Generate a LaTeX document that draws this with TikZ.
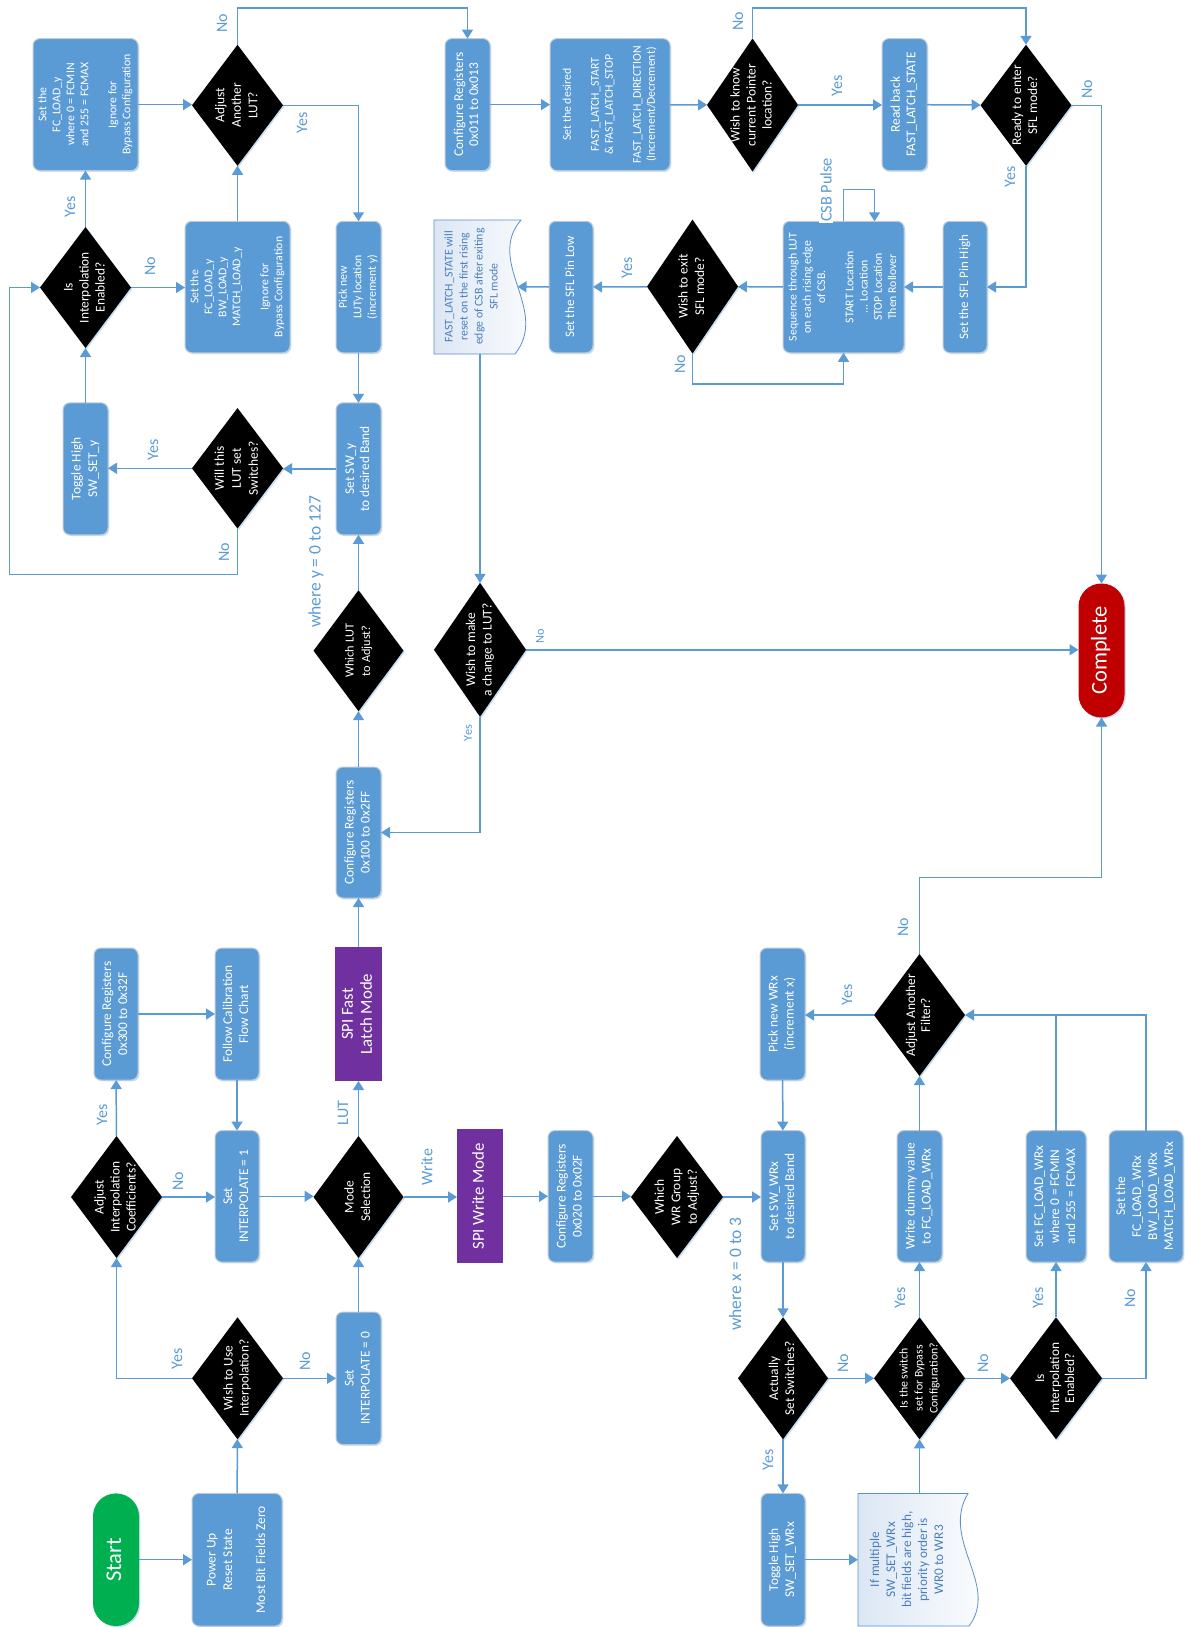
\documentclass[tikz,border=0pt]{standalone}
\usepackage{fontspec}
\setmainfont{Carlito}
\usepackage{graphicx}
\usetikzlibrary{arrows.meta,shapes.geometric,shadows}
\definecolor{boxblue}{HTML}{5B9BD5}
\definecolor{boxedge}{HTML}{BFCAD6}
\definecolor{lineblue}{HTML}{5B9BD5}
\definecolor{purp}{HTML}{7030A0}
\definecolor{startgreen}{HTML}{00B050}
\definecolor{endred}{HTML}{C00000}
\definecolor{notetext}{HTML}{4A7EBB}
\definecolor{noteedge}{HTML}{5B8FCB}
\definecolor{notefill}{HTML}{DCE7F4}
\definecolor{shadowblue}{HTML}{A9C8E8}
\newcommand{\rt}[3]{\rotatebox{90}{\fontsize{#1}{#2}\selectfont\begin{tabular}{@{}c@{}}#3\end{tabular}}}
\tikzset{
 softshadow/.style={drop shadow={shadow xshift=1.3pt, shadow yshift=-1.3pt, fill=shadowblue, opacity=0.6}},
 bx/.style 2 args={rectangle, rounded corners=7pt, fill=boxblue, draw=boxedge, line width=1pt, text=white, inner sep=0pt, outer sep=0pt, minimum width=#1pt, minimum height=#2pt, softshadow},
 pb/.style 2 args={rectangle, fill=purp, text=white, inner sep=0pt, outer sep=0pt, minimum width=#1pt, minimum height=#2pt},
 term/.style 2 args={rectangle, rounded corners=22.9pt, text=white, inner sep=0pt, outer sep=0pt, minimum width=#1pt, minimum height=#2pt, softshadow},
 dia/.style 2 args={diamond, fill=black, inner sep=0pt, outer sep=0pt, minimum width=#1pt, minimum height=#2pt, softshadow},
 dl/.style={text=white, inner sep=0pt},
 nt/.style 2 args={inner sep=0pt, outer sep=0pt, text=notetext, minimum width=#1pt, minimum height=#2pt},
 arr/.style={draw=lineblue, line width=1.5pt, -{Triangle[length=9pt,width=11pt]}},
 ln/.style={draw=lineblue, line width=1.5pt},
 lab/.style={text=lineblue, rotate=90, inner sep=0pt, font=\fontsize{16}{19}\selectfont},
 slab/.style={text=lineblue, rotate=90, inner sep=0pt, font=\fontsize{12.3}{14}\selectfont},
 notebody/.style={draw=noteedge, line width=0.8pt, left color=notefill, right color=white},
}
\begin{document}
\begin{tikzpicture}[x=1pt,y=-1pt]
\fill[white] (0,0) rectangle (1184,1627);
\useasboundingbox (0,0) rectangle (1184,1627);

% ---------- notes (outlines) ----------
\path[notebody] (434,220) -- (521,220) .. controls (485,262) and (550,310) .. (515,354) -- (434,354) -- cycle;
\path[notebody] (858,1493.4) -- (968,1493.4) .. controls (940,1540) and (1000,1585) .. (969,1626) -- (858,1626) -- cycle;
\node[nt={76}{134}] (n1) at (472,286.6) {\rt{11.8}{15}{FAST\_LATCH\_STATE will\\reset on the first rising\\edge of CSB after exiting\\SFL mode}};
\node[nt={100}{132.6}] (n2) at (908,1559.7) {\rt{13.3}{16}{If multiple\\SW\_SET\_WRx\\bit fields are high,\\priority order is\\WR0 to WR3}};
\coordinate (n1e) at (517.5,286.8);

% ---------- row A ----------
\node[bx={105}{132}] (b1) at (85.5,104.6) {\rt{11.8}{14}{Set the\\FC\_LOAD\_y\\where 0 = FCMIN\\and 255 = FCMAX\\ \mbox{}\\Ignore for\\Bypass Configuration}};
\node[dia={91}{121}, label={[dl]center:\rt{13.4}{16.5}{Adjust\\Another\\LUT?}}] (d1) at (237.5,105.3) {};
\node[bx={45}{132}] (b6) at (467.5,104.6) {\rt{13.4}{15}{Configure Registers\\0x011 to 0x013}};
\node[bx={120}{132}] (b7) at (610,104.6) {\rt{11.8}{14}{Set the desired\\ \mbox{}\\FAST\_LATCH\_START\\\& FAST\_LATCH\_STOP\\ \mbox{}\\FAST\_LATCH\_DIRECTION\\(Increment/Decrement)}};
\node[dia={91}{133}, label={[dl]center:\rt{13.4}{16}{Wish to know\\current Pointer\\location?}}] (d4) at (752.5,105) {};
\node[bx={45}{132}] (b8) at (904.5,104.6) {\rt{13.4}{15.5}{Read back\\FAST\_LATCH\_STATE}};
\node[dia={91}{121}, label={[dl]center:\rt{13.4}{16}{Ready to enter\\SFL mode?}}] (d5) at (1026,105.3) {};

% ---------- row B ----------
\node[dia={91}{121}, label={[dl]center:\rt{13.4}{16}{Is\\Interpolation\\Enabled?}}] (d2) at (85.5,287.5) {};
\node[bx={105}{131.5}] (b2) at (237.5,287) {\rt{11.8}{14}{Set the\\FC\_LOAD\_y\\BW\_LOAD\_y\\MATCH\_LOAD\_y\\ \mbox{}\\Ignore for\\Bypass Configuration}};
\node[bx={45}{131.5}] (b3) at (358.5,287) {\rt{11.8}{14.5}{Pick new\\LUTy location\\(increment y)}};
\node[bx={44}{131.5}] (b9) at (571,287) {\rt{13}{15}{Set the SFL Pin Low}};
\node[dia={91}{134}, label={[dl]center:\rt{13.4}{16.5}{Wish to exit\\SFL mode?}}] (d6) at (692.5,286.6) {};
\node[bx={121}{131.5}] (b10) at (843.5,287) {\rt{11.8}{14.2}{Sequence through LUT\\on each rising edge\\of CSB.\\ \mbox{}\\START Location\\... Location\\STOP Location\\Then Rollover}};
\node[bx={44}{131.5}] (b11) at (965,287) {\rt{13}{15}{Set the SFL Pin High}};

% ---------- row C ----------
\node[bx={45}{132}] (b4) at (85.5,468.8) {\rt{13.4}{16.5}{Toggle High\\SW\_SET\_y}};
\node[dia={91}{120.5}, label={[dl]center:\rt{13.4}{17}{Will this\\LUT set\\Switches?}}] (d3) at (237.5,468.3) {};
\node[bx={45}{132}] (b5) at (358.5,468.8) {\rt{13.4}{15}{Set SW\_y\\to desired Band}};

% ---------- row D ----------
\node[dia={90}{121}, label={[dl]center:\rt{12.3}{16.5}{Which LUT\\to Adjust?}}] (d7) at (358.5,650.7) {};
\node[dia={92}{134}, label={[dl]center:\rt{13.4}{16.5}{Wish to make\\a change to LUT?}}] (d8) at (480,649.8) {};
\node[term={46}{134}, fill=endred] (complete) at (1101.5,650.5) {\rt{22.5}{26}{Complete}};

% ---------- row E ----------
\node[bx={45}{131}] (b12) at (358.5,832.5) {\rt{13.4}{16}{Configure Registers\\0x100 to 0x2FF}};

% ---------- row F ----------
\node[bx={44}{132}] (b13) at (116,1014) {\rt{13.4}{16}{Configure Registers\\0x300 to 0x32F}};
\node[bx={44}{132}] (b14) at (237,1014) {\rt{13.4}{16}{Follow Calibration\\Flow Chart}};
\node[pb={47}{134}] (p1) at (358.5,1014) {\rt{16.8}{19}{SPI Fast\\Latch Mode}};
\node[bx={45}{132}] (b15) at (782.5,1014) {\rt{13.4}{16}{Pick new WRx\\(increment x)}};
\node[dia={91}{122}, label={[dl]center:\rt{13.4}{15}{Adjust Another\\Filter?}}] (d16) at (919.5,1015) {};

% ---------- row G ----------
\node[dia={91}{122}, label={[dl]center:\rt{13.4}{16}{Adjust\\Interpolation\\Coefficients?}}] (d9) at (116.5,1197) {};
\node[bx={44}{131.5}] (b16) at (237,1196.3) {\rt{13.4}{16}{Set\\INTERPOLATE = 1}};
\node[dia={90}{122}, label={[dl]center:\rt{13.4}{16.5}{Mode\\Selection}}] (d10) at (358.5,1197) {};
\node[pb={46}{134}] (p2) at (480,1196.3) {\rt{16.8}{19}{SPI Write Mode}};
\node[bx={45}{131.5}] (b19) at (570.5,1196.3) {\rt{13.4}{16}{Configure Registers\\0x020 to 0x02F}};
\node[dia={92}{122}, label={[dl]center:\rt{13.4}{16.5}{Which\\WR Group\\to Adjust?}}] (d12) at (677,1197) {};
\node[bx={44}{131.5}] (b20) at (783,1196.3) {\rt{13.4}{16}{Set SW\_WRx\\to desired Band}};
\node[bx={45}{131.5}] (b22) at (919.5,1196.3) {\rt{13.4}{16}{Write dummy value\\to FC\_LOAD\_WRx}};
\node[bx={60}{131.5}] (b23) at (1056,1196.3) {\rt{13.4}{16}{Set FC\_LOAD\_WRx\\where 0 = FCMIN\\and 255 = FCMAX}};
\node[bx={74}{131.5}] (b24) at (1146,1196.3) {\rt{13.4}{16}{Set the\\FC\_LOAD\_WRx\\BW\_LOAD\_WRx\\MATCH\_LOAD\_WRx}};

% ---------- row H ----------
\node[dia={91}{122}, label={[dl]center:\rt{13.4}{16}{Wish to Use\\Interpolation?}}] (d11) at (237.5,1378.3) {};
\node[bx={45}{132.6}] (b17) at (358.5,1378.3) {\rt{13.4}{16}{Set\\INTERPOLATE = 0}};
\node[dia={90}{122}, label={[dl]center:\rt{13.4}{16}{Actually\\Set Switches?}}] (d13) at (783,1378.3) {};
\node[dia={91}{122}, label={[dl]center:\rt{11.8}{15}{Is the switch\\set for Bypass\\Configuration?}}] (d14) at (919.5,1378.3) {};
\node[dia={92}{122}, label={[dl]center:\rt{13.4}{15}{Is\\Interpolation\\Enabled?}}] (d15) at (1056,1378.3) {};

% ---------- row I ----------
\node[term={46}{132.6}, fill=startgreen] (start) at (116,1559.7) {\rt{22.5}{26}{Start}};
\node[bx={90}{132.6}] (b18) at (237,1559.7) {\rt{13.4}{16.5}{Power Up\\Reset State\\ \mbox{}\\Most Bit Fields Zero}};
\node[bx={44}{132.6}] (b21) at (783,1559.7) {\rt{13.4}{16}{Toggle High\\SW\_SET\_WRx}};

% ---------- helper coordinates ----------
\coordinate (k1) at (919.5,877.5);
\coordinate (k2) at (9.6,574.6);
\coordinate (k3) at (237.5,7.9);
\coordinate (k4) at (692.5,384);
\coordinate (k5) at (843.5,189.3);
\coordinate (k6) at (874.5,189.3);
\coordinate (k7) at (752.5,7.9);

% ---------- connectors: bottom-left part ----------
\draw[arr] (start) -- (b18);
\draw[arr] (b18) -- (d11);
\draw[arr] (d11.west) -| (d9.south);
\draw[arr] (d11) -- (b17);
\draw[arr] (d9) -- (b13);
\draw[arr] (d9.east) -- (d9.east -| b16.west);
\draw[arr] (b13) -- (b14);
\draw[arr] (b14) -- (b16);
\draw[arr] (b16.east) -- (b16.east -| d10.west);
\draw[arr] (b17) -- (d10);
\draw[arr] (d10) -- (p1);
\draw[arr] (d10.east) -- (d10.east -| p2.west);
\draw[arr] (p2) -- (b19);
\draw[arr] (b19.east) -- (b19.east -| d12.west);
\draw[arr] (d12.east) -- (d12.east -| b20.west);
\draw[arr] (b20) -- (d13);
\draw[arr] (d13) -- (b21);
\draw[arr] (b21) -- (n2.west);
\draw[arr] (n2.north -| d14.south) -- (d14.south);
\draw[arr] (d13) -- (d14);
\draw[arr] (d14) -- (b22);
\draw[arr] (d14) -- (d15);
\draw[arr] (d15) -- (b23);
\draw[arr] (d15.east) -| (b24.south);
\draw[arr] (b22) -- (d16);
\draw[ln] (b23.north) -- (b23.north |- d16.east);
\draw[arr] (b24.north) |- (d16.east);
\draw[arr] (d16.west) -- (d16.west -| b15.east);
\draw[arr] (b15) -- (b20);
\draw[arr] (d16.north) -- (k1) -| (complete.south);

% ---------- connectors: LUT part ----------
\draw[arr] (p1) -- (b12);
\draw[arr] (b12) -- (d7);
\draw[arr] (d7) -- (b5);
\draw[arr] (d8.south) |- (b12.east);
\draw[arr] (d8.east) -- (d8.east -| complete.west);
\draw[arr] (n1.south -| d8.north) -- (d8.north);
\draw[arr] (b3) -- (b5);
\draw[arr] (b5.west) -- (b5.west -| d3.east);
\draw[arr] (d3.west) -- (d3.west -| b4.east);
\draw[arr] (b4) -- (d2);
\draw[arr] (d3.south) |- (k2) |- (d2.west);
\draw[arr] (d2) -- (b1);
\draw[arr] (d2.east) -- (d2.east -| b2.west);
\draw[arr] (b2) -- (d1);
\draw[arr] (b1.east) -- (b1.east -| d1.west);
\draw[arr] (d1.east) -| (b3.north);
\draw[arr] (d1.north) -- (k3) -| (b6.north);

% ---------- connectors: fast latch part ----------
\draw[arr] (b6) -- (b7);
\draw[arr] (b7) -- (d4);
\draw[arr] (d4.east) -- (d4.east -| b8.west);
\draw[arr] (b8) -- (d5);
\draw[arr] (d4.north) -- (k7) -| (d5.north);
\draw[arr] (d5.east) -| (complete.north);
\draw[arr] (d5.south) |- (b11.east);
\draw[arr] (b11) -- (b10);
\draw[arr] (b10) -- (d6);
\draw[arr] (d6) -- (b9);
\draw[arr] (b9.west) -- (n1e);
\draw[arr] (d6.south) -- (k4) -| (b10.south);
\draw[arr] (b10.north -| k5) -- (k5) -- (k6) -- (k6 |- b10.north);

% ---------- connector labels ----------
\node[lab] (l1) at (222,23) {No};
\node[lab] (l2) at (302,123) {Yes};
\node[lab] (l3) at (70,207) {Yes};
\node[lab] (l4) at (150,266) {No};
\node[lab] (l5) at (153,450) {Yes};
\node[lab] (l6) at (224,552) {No};
\node[lab, font=\fontsize{17.5}{20}\selectfont] (l7) at (316,562) {where y = 0 to 127};
\node[lab] (l8) at (738,21) {No};
\node[lab] (l9) at (837,86) {Yes};
\node[lab] (l10) at (1087,89) {No};
\node[lab] (l11) at (1010,177) {Yes};
\node[lab] (l12) at (627,268) {Yes};
\node[lab] (l13) at (680,364) {No};
\node[lab, font=\fontsize{16.3}{19}\selectfont, fill=white, inner sep=1pt] (l14) at (826,190) {CSB Pulse};
\node[slab] (l15) at (540,636) {No};
\node[slab] (l16) at (468,733) {Yes};
\node[lab] (l17) at (903,927.5) {No};
\node[lab] (l18) at (847,995) {Yes};
\node[lab] (l19) at (102,1115) {Yes};
\node[lab] (l20) at (178,1181) {No};
\node[lab] (l21) at (343,1113) {LUT};
\node[lab] (l22) at (427,1167) {Write};
\node[lab] (l23) at (177,1359) {Yes};
\node[lab] (l24) at (305,1361) {No};
\node[lab, font=\fontsize{17.5}{20}\selectfont] (l25) at (735,1274) {where x = 0 to 3};
\node[lab] (l26) at (768,1460) {Yes};
\node[lab] (l27) at (843,1363) {No};
\node[lab] (l28) at (900,1298) {Yes};
\node[lab] (l29) at (983,1363) {No};
\node[lab] (l30) at (1038,1298) {Yes};
\node[lab] (l31) at (1130,1298) {No};
\end{tikzpicture}
\end{document}
